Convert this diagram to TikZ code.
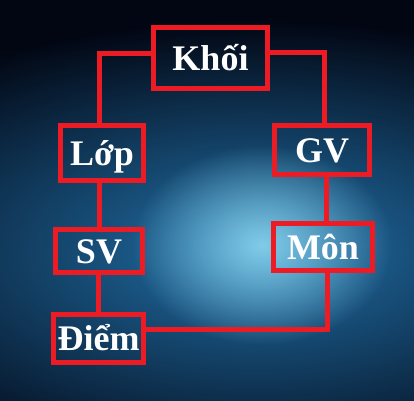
\documentclass[tikz,border=0pt]{standalone}
\usepackage{fontspec}
\setmainfont{Liberation Serif}
\usetikzlibrary{fadings}
\definecolor{boxred}{HTML}{ED1C24}
\definecolor{bgtop}{HTML}{020612}
\definecolor{bgmid}{HTML}{18427A}
\definecolor{bgbot}{HTML}{030A1A}
\definecolor{bgblue}{HTML}{2272AA}
\definecolor{bgglow}{HTML}{8CD6F0}
\tikzfading[name=glowfade, inner color=transparent!0, outer color=transparent!100]

\begin{document}
\begin{tikzpicture}[x=1pt, y=1pt,
    box/.style={draw=boxred, line width=5pt, inner sep=0pt, outer sep=0pt,
      text=white, font=\fontsize{36}{36}\selectfont\bfseries,
      text height=24pt, text depth=0pt},
    link/.style={draw=boxred, line width=5pt}]
    % background
    \useasboundingbox (0,0) rectangle (414,400);
    \begin{scope}
      \clip (0,0) rectangle (414,400);
      \shade[top color=bgtop, middle color=bgmid, bottom color=bgbot] (0,0) rectangle (414,400);
      \fill[bgblue, path fading=glowfade] (255,150) ellipse (480 and 230);
      \fill[bgglow, opacity=0.9, path fading=glowfade] (262,155) ellipse (130 and 100);
    \end{scope}
    % boxes
    \node[box, minimum width=114pt, minimum height=61pt] (khoi) at (210.5, 342) {Khối};
    \node[box, minimum width=83pt, minimum height=55pt] (lop) at (102, 247) {Lớp};
    \node[box, minimum width=95pt, minimum height=49pt] (gv) at (322, 250) {GV};
    \node[box, minimum width=87pt, minimum height=43pt] (sv) at (99, 149) {SV};
    \node[box, minimum width=99pt, minimum height=47pt] (mon) at (323, 153) {Môn};
    \node[box, minimum width=90pt, minimum height=48pt] (diem) at (98.5, 61.5) {Điểm};
    % links
    \draw[link] ([yshift=4.5pt]khoi.west) -| ([xshift=-3pt]lop.north);
    \draw[link] ([yshift=5.5pt]khoi.east) -| ([xshift=2.5pt]gv.north);
    \draw[link] (sv.north |- lop.south) -- (sv.north);
    \draw[link] (diem.north |- sv.south) -- (diem.north);
    \draw[link] ([xshift=3pt]mon.north |- gv.south) -- ([xshift=3pt]mon.north);
    \draw[link] ([yshift=9pt]diem.east) -| ([xshift=4.5pt]mon.south);
\end{tikzpicture}
\end{document}
